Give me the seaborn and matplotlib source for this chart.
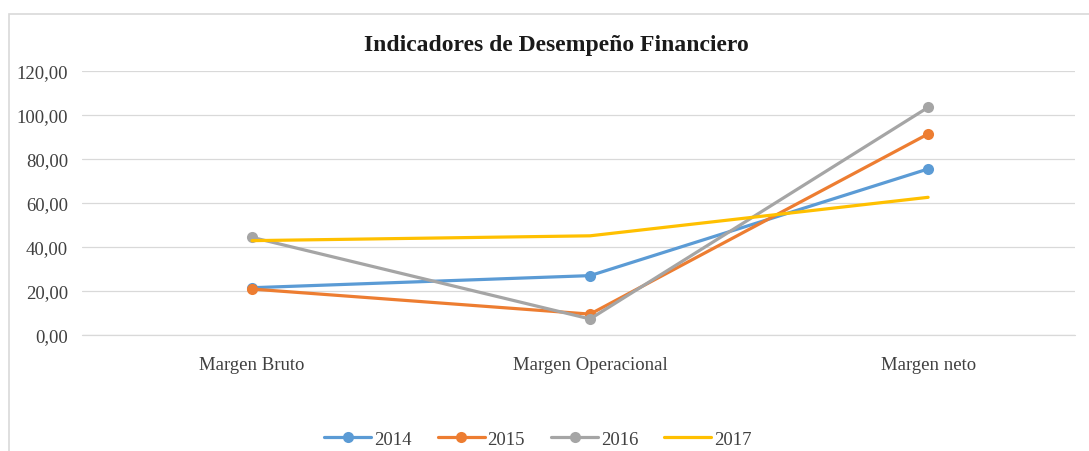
import matplotlib
matplotlib.use("Agg")
import matplotlib.pyplot as plt
import matplotlib.patches as patches
from matplotlib.ticker import FuncFormatter
import seaborn as sns

# Données
categorias = ["Margen Bruto", "Margen Operacional", "Margen neto"]
anios = ["2014", "2015", "2016", "2017"]
v2014 = [21.5, 27.0, 75.5]
v2015 = [20.9, 9.5, 91.4]
v2016 = [44.4, 7.3, 103.5]
v2017 = [42.9, 45.1, 62.6]
valores = [v2014, v2015, v2016, v2017]
colores = ["#5B9BD5", "#ED7D31", "#A5A5A5", "#FFC000"]
marcadores = ["o", "o", "o", None]

sns.set_theme(style="white")
plt.rcParams["font.family"] = ["Liberation Serif", "DejaVu Serif"]

fig = plt.figure(figsize=(10.89, 4.52), dpi=100)
ax = fig.add_axes([0.0753, 0.2566, 0.912, 0.584])

# Bordure du graphique (style Excel)
fig.patches.append(patches.Rectangle((9 / 1089, -0.1), 1.2, 1 - 15 / 452 + 0.1,
                                     transform=fig.transFigure, fill=False,
                                     edgecolor="#D9D9D9", linewidth=1.2))

for anio, vals, col, mk in zip(anios, valores, colores, marcadores):
    sns.lineplot(x=categorias, y=vals, color=col, marker=mk, markersize=8,
                 markeredgewidth=0, linewidth=2.3, label=anio, ax=ax, sort=False)

ax.set_xlim(-0.503, 2.435)
ax.set_ylim(0, 120)
ax.set_yticks(range(0, 121, 20))
ax.yaxis.set_major_formatter(FuncFormatter(lambda v, p: f"{v:.2f}".replace(".", ",")))
ax.grid(axis="y", color="#D9D9D9", linewidth=0.9)
ax.axhline(0, color="#D9D9D9", linewidth=0.9, clip_on=False, zorder=0)
ax.set_axisbelow(True)
for s in ax.spines.values():
    s.set_visible(False)
ax.tick_params(axis="y", labelsize=13.5, colors="#404040", pad=10, length=0)
ax.tick_params(axis="x", labelsize=13.5, colors="#404040", pad=15, length=0)
ax.set_xlabel("")
ax.set_ylabel("")

fig.text(556 / 1089, 1 - 45 / 452, "Indicadores de Desempeño Financiero",
         ha="center", va="center", fontsize=17, fontweight="bold", color="#1a1a1a")

ax.legend_.remove()
h, l = ax.get_legend_handles_labels()
fig.legend(h, l, loc="center", bbox_to_anchor=(0.494, 1 - 440 / 452), ncol=4,
           frameon=False, fontsize=13.5, handlelength=2.5, columnspacing=1.4,
           handletextpad=0.15, labelcolor="#404040")

fig.savefig("out.png", dpi=100)
